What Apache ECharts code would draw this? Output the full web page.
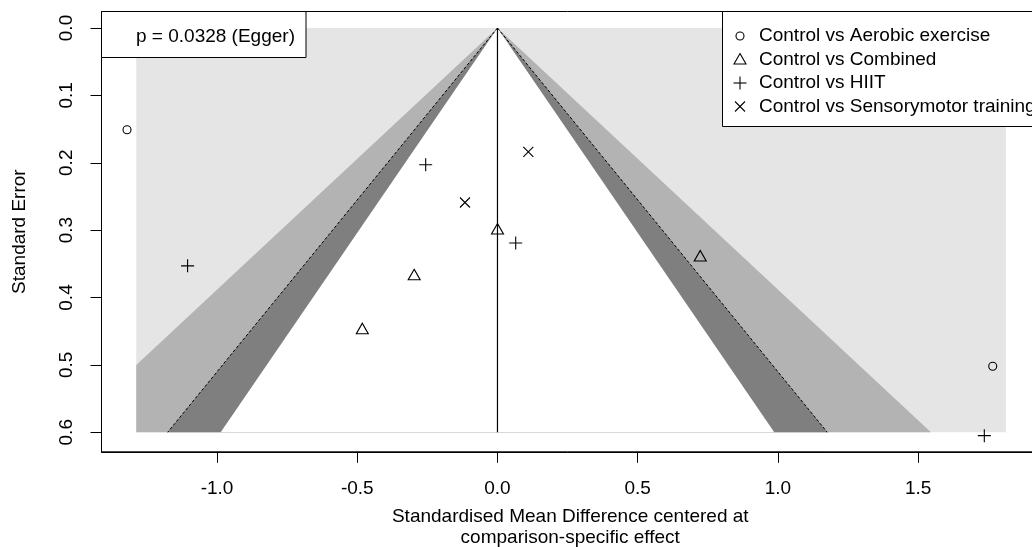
<!DOCTYPE html>
<html>
<head>
<meta charset="utf-8">
<title>Funnel plot</title>
<script src="https://cdn.jsdelivr.net/npm/echarts@6/dist/echarts.min.js"></script>
<style>
  html, body { margin: 0; padding: 0; background: #fff; }
  #chart { width: 1032px; height: 547px; }
</style>
</head>
<body>
<div id="chart"></div>
<script>
// Comparison names (legend order)
const comparisons = [
  'Control vs Aerobic exercise',
  'Control vs Combined',
  'Control vs HIIT',
  'Control vs Sensorymotor training'
];

// Study estimates: [centered SMD, standard error]
const aerobicPts  = [[-1.321, 0.151], [1.766, 0.502]];
const combinedPts = [[0.000, 0.298], [-0.297, 0.366], [-0.482, 0.446], [0.723, 0.338]];
const hiitPts     = [[-0.256, 0.203], [0.065, 0.319], [-1.105, 0.353], [1.736, 0.605]];
const sensoryPts  = [[0.110, 0.184], [-0.116, 0.259]];

// Axis ticks
const xTicks = [-1.0, -0.5, 0.0, 0.5, 1.0, 1.5];
const yTicks = [0.0, 0.1, 0.2, 0.3, 0.4, 0.5, 0.6];

// Contour levels 90%, 95%, 99% as normal quantiles
const contourZ = [1.645, 1.96, 2.576];
const seMax = 0.6;
const shadeRange = [-1.288, 1.813];
const eggerText = 'p = 0.0328 (Egger)';

// ---- styling ----
const FONT = 'Liberation Sans, Arial, Helvetica, sans-serif';
const FS = 19;
const shadeColors = { outer: '#E5E5E5', z99: '#B3B3B3', z95: '#7F7F7F', z90: '#FFFFFF' };

const symbols = {
  circle:   { symbol: 'circle', size: 8 },
  triangle: { symbol: 'path://M0,-1L0.866,0.5L-0.866,0.5Z', size: [12, 10.5] },
  plus:     { symbol: 'path://M-1,0L1,0M0,-1L0,1', size: 13 },
  cross:    { symbol: 'path://M-1,-1L1,1M-1,1L1,-1', size: 10 }
};
const symbolKeys = ['circle', 'triangle', 'plus', 'cross'];
const pointSets = [aerobicPts, combinedPts, hiitPts, sensoryPts];

// funnel triangle |x| < z*se, clipped to the shaded x-range
function funnelPolygon(z) {
  const [xL, xR] = shadeRange;
  const pts = [[0, 0]];
  const reach = z * seMax;
  if (reach > xR) { pts.push([xR, xR / z], [xR, seMax]); } else { pts.push([reach, seMax]); }
  if (reach > -xL) { pts.push([xL, seMax], [xL, -xL / z]); } else { pts.push([-reach, seMax]); }
  return pts;
}

const shapes = [
  { pts: [[shadeRange[0], 0], [shadeRange[1], 0], [shadeRange[1], seMax], [shadeRange[0], seMax]], fill: shadeColors.outer },
  { pts: funnelPolygon(contourZ[2]), fill: shadeColors.z99 },
  { pts: funnelPolygon(contourZ[1]), fill: shadeColors.z95 },
  { pts: funnelPolygon(contourZ[0]), fill: shadeColors.z90 }
];

const chart = echarts.init(document.getElementById('chart'), null, { renderer: 'canvas' });

const series = [];

series.push({
  type: 'custom',
  silent: true,
  z: 1,
  data: shapes.map(s => s.pts[0]),
  renderItem: function (params, api) {
    const s = shapes[params.dataIndex];
    return {
      type: 'polygon',
      shape: { points: s.pts.map(p => api.coord(p)) },
      style: { fill: s.fill, stroke: null }
    };
  }
});

// 95% limits (dashed) and the centre line
[-1, 1].forEach(sign => {
  series.push({
    type: 'line', silent: true, z: 2, symbol: 'none',
    data: [[0, 0], [sign * contourZ[1] * seMax, seMax]],
    lineStyle: { color: '#000', width: 1, type: [3, 2] }
  });
});
series.push({
  type: 'line', silent: true, z: 2, symbol: 'none',
  data: [[0, 0], [0, seMax]],
  lineStyle: { color: '#000', width: 1.2 }
});

pointSets.forEach((pts, i) => {
  const sd = symbols[symbolKeys[i]];
  series.push({
    type: 'scatter',
    name: comparisons[i],
    silent: true,
    z: 5,
    data: pts,
    symbol: sd.symbol,
    symbolSize: sd.size,
    itemStyle: { color: 'rgba(0,0,0,0)', borderColor: '#000', borderWidth: 1.1, opacity: 1 }
  });
});

// legend icons, one drawer per marker shape
const iconStyle = { fill: 'none', stroke: '#000', lineWidth: 1.1 };
function legendIcon(key, cx, cy) {
  if (key === 'circle') {
    return [{ type: 'circle', z: 101, shape: { cx: cx, cy: cy, r: 4 }, style: iconStyle }];
  }
  if (key === 'triangle') {
    return [{ type: 'polygon', z: 101, shape: { points: [[cx, cy - 6], [cx + 6, cy + 4.5], [cx - 6, cy + 4.5]] }, style: iconStyle }];
  }
  if (key === 'plus') {
    return [
      { type: 'line', z: 101, shape: { x1: cx - 6.5, y1: cy, x2: cx + 6.5, y2: cy }, style: iconStyle },
      { type: 'line', z: 101, shape: { x1: cx, y1: cy - 6.5, x2: cx, y2: cy + 6.5 }, style: iconStyle }
    ];
  }
  return [
    { type: 'line', z: 101, shape: { x1: cx - 5, y1: cy - 5, x2: cx + 5, y2: cy + 5 }, style: iconStyle },
    { type: 'line', z: 101, shape: { x1: cx - 5, y1: cy + 5, x2: cx + 5, y2: cy - 5 }, style: iconStyle }
  ];
}

const graphics = [];
graphics.push({
  type: 'rect', z: 100,
  shape: { x: 101.5, y: 11.5, width: 204.5, height: 46 },
  style: { fill: '#fff', stroke: '#000', lineWidth: 1 }
});
graphics.push({
  type: 'text', z: 101, x: 136, y: 36.5,
  style: { text: eggerText, font: FS + 'px ' + FONT, fill: '#000', verticalAlign: 'middle', align: 'left' }
});
graphics.push({
  type: 'rect', z: 100,
  shape: { x: 722.5, y: 11.5, width: 400, height: 115 },
  style: { fill: '#fff', stroke: '#000', lineWidth: 1 }
});
const rowY = [36, 59.5, 83, 106.5];
comparisons.forEach((name, i) => {
  legendIcon(symbolKeys[i], 740, rowY[i]).forEach(g => graphics.push(g));
  graphics.push({ type: 'text', z: 101, x: 759, y: rowY[i],
    style: { text: name, font: FS + 'px ' + FONT, fill: '#000', verticalAlign: 'middle', align: 'left' } });
});

chart.setOption({
  animation: false,
  backgroundColor: '#fff',
  textStyle: { fontFamily: FONT },
  grid: {
    left: 101.5, top: 11.5, right: -7, bottom: 95.2,
    outerBoundsMode: 'none', containLabel: false,
    show: true, borderColor: '#000', borderWidth: 1, backgroundColor: 'transparent'
  },
  xAxis: {
    type: 'value', min: -1.412, max: 1.931,
    name: 'Standardised Mean Difference centered at\ncomparison-specific effect',
    nameLocation: 'middle', nameGap: 54,
    nameTextStyle: { fontSize: FS, color: '#000', fontFamily: FONT, lineHeight: 21.5 },
    axisLine: { show: true, onZero: false, lineStyle: { color: '#000', width: 1 } },
    axisTick: { show: true, length: 11, customValues: xTicks, lineStyle: { color: '#000', width: 1 } },
    axisLabel: { customValues: xTicks, formatter: v => v.toFixed(1), fontSize: FS, color: '#000', margin: 27, fontFamily: FONT },
    splitLine: { show: false }
  },
  yAxis: {
    type: 'value', inverse: true, min: -0.0245, max: 0.629,
    name: 'Standard Error', nameLocation: 'middle', nameGap: 72,
    nameTextStyle: { fontSize: FS, color: '#000', fontFamily: FONT },
    axisLine: { show: true, onZero: false, lineStyle: { color: '#000', width: 1 } },
    axisTick: { show: true, length: 11, customValues: yTicks, lineStyle: { color: '#000', width: 1 } },
    axisLabel: { customValues: yTicks, formatter: v => v.toFixed(1), fontSize: FS, color: '#000', margin: 25, rotate: 90, fontFamily: FONT },
    splitLine: { show: false }
  },
  series: series,
  graphic: graphics
});
</script>
</body>
</html>
